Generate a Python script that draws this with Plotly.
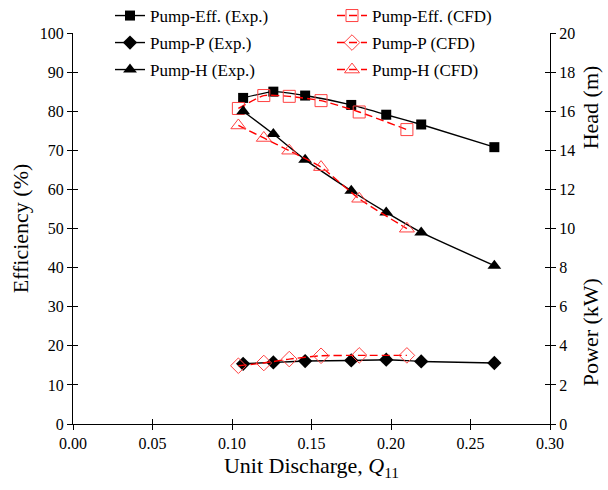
import plotly.graph_objects as go

# Data
q_exp = [0.107, 0.126, 0.146, 0.175, 0.197, 0.219, 0.265]
eff_exp = [83.4, 85.0, 84.0, 81.6, 79.1, 76.6, 70.8]
power_exp = [3.08, 3.15, 3.22, 3.25, 3.29, 3.20, 3.12]
head_exp = [16.0, 14.83, 13.52, 11.93, 10.82, 9.80, 8.10]

q_cfd = [0.104, 0.120, 0.136, 0.156, 0.180, 0.210]
eff_cfd = [80.7, 84.0, 83.8, 82.7, 79.8, 75.3]
power_cfd = [2.98, 3.12, 3.32, 3.49, 3.51, 3.51]
head_cfd = [15.27, 14.63, 13.98, 13.14, 11.52, 9.99]

x_ticks = [0.00, 0.05, 0.10, 0.15, 0.20, 0.25, 0.30]
x_ticklabels = ["0.00", "0.05", "0.10", "0.15", "0.20", "0.25", "0.30"]

FONT = "Liberation Serif, Times New Roman, serif"
BLACK = "#000000"
RED = "#FF0000"
RED_MK = "#FF4040"

fig = go.Figure()

def exp_trace(x, y, name, symbol, size, yaxis, legend):
    return go.Scatter(
        x=x, y=y, name=name, mode="lines+markers", yaxis=yaxis, legend=legend,
        line=dict(color=BLACK, width=1.4, shape="spline", smoothing=0.5),
        marker=dict(symbol=symbol, size=size, color=BLACK, line=dict(width=0)),
    )

def cfd_trace(x, y, name, symbol, size, yaxis, legend):
    return go.Scatter(
        x=x, y=y, name=name, mode="lines+markers", yaxis=yaxis, legend=legend,
        line=dict(color=RED, width=1.4, dash="8px,4px", shape="spline", smoothing=0.5),
        marker=dict(symbol=symbol, size=size, color=RED_MK, line=dict(color=RED_MK, width=1)),
    )

fig.add_trace(exp_trace(q_exp, eff_exp, "Pump-Eff. (Exp.)", "square", 10, "y", "legend"))
fig.add_trace(cfd_trace(q_cfd, eff_cfd, "Pump-Eff. (CFD)", "square-open", 12, "y", "legend2"))
fig.add_trace(exp_trace(q_exp, power_exp, "Pump-P (Exp.)", "diamond", 11, "y2", "legend3"))
fig.add_trace(cfd_trace(q_cfd, power_cfd, "Pump-P (CFD)", "diamond-open", 12, "y2", "legend4"))
fig.add_trace(exp_trace(q_exp, head_exp, "Pump-H (Exp.)", "triangle-up", 12, "y2", "legend5"))
fig.add_trace(cfd_trace(q_cfd, head_cfd, "Pump-H (CFD)", "triangle-up-open", 13, "y2", "legend6"))

# empty helper traces so the overlay axes (inner tick halves) get drawn
fig.add_trace(go.Scatter(x=[None], y=[None], xaxis="x2", yaxis="y3",
                         showlegend=False, hoverinfo="skip"))
fig.add_trace(go.Scatter(x=[None], y=[None], xaxis="x2", yaxis="y4",
                         showlegend=False, hoverinfo="skip"))

axis_common = dict(showgrid=False, zeroline=False, showline=True,
                   linecolor=BLACK, linewidth=1.3, ticks="outside",
                   ticklen=5, tickwidth=1.3, tickcolor=BLACK,
                   tickfont=dict(family=FONT, size=16, color=BLACK))
inner_ticks = dict(showticklabels=False, showgrid=False, zeroline=False, showline=False,
                   ticks="inside", ticklen=5, tickwidth=1.3, tickcolor=BLACK)

legend_font = dict(family=FONT, size=17, color=BLACK)
col_x = [110 / 608, 332 / 608]
row_y = [1 - 16 / 490, 1 - 43 / 490, 1 - 70 / 490]
legends = {}
for i in range(6):
    key = "legend" if i == 0 else f"legend{i + 1}"
    legends[key] = dict(orientation="h", x=col_x[i % 2], y=row_y[i // 2],
                        xref="container", yref="container",
                        xanchor="left", yanchor="middle", itemwidth=30,
                        font=legend_font, bgcolor="rgba(0,0,0,0)")

fig.update_layout(
    width=608, height=490,
    margin=dict(l=73, r=58, t=33, b=66, autoexpand=False),
    paper_bgcolor="white", plot_bgcolor="white",
    font=dict(family=FONT, color=BLACK),
    showlegend=True,
    xaxis=dict(range=[0, 0.30], tickvals=x_ticks, ticktext=x_ticklabels,
               title=dict(text="Unit Discharge, <i>Q</i><sub>11</sub>",
                          font=dict(family=FONT, size=22, color=BLACK), standoff=6),
               **axis_common),
    xaxis2=dict(range=[0, 0.30], tickvals=x_ticks, overlaying="x", anchor="y",
                side="bottom", **inner_ticks),
    yaxis=dict(range=[0, 100], dtick=10,
               title=dict(text="Efficiency (%)", font=dict(family=FONT, size=22, color=BLACK),
                          standoff=4),
               **axis_common),
    yaxis2=dict(range=[0, 20], dtick=2, overlaying="y", side="right", anchor="x",
                **axis_common),
    yaxis3=dict(range=[0, 100], dtick=10, overlaying="y", side="left", anchor="x",
                **inner_ticks),
    yaxis4=dict(range=[0, 20], dtick=2, overlaying="y", side="right", anchor="x",
                **inner_ticks),
    annotations=[
        dict(text="Head (m)", xref="paper", yref="paper", x=1.084, y=0.81,
             textangle=-90, showarrow=False, xanchor="center", yanchor="middle",
             font=dict(family=FONT, size=22, color=BLACK)),
        dict(text="Power (kW)", xref="paper", yref="paper", x=1.084, y=0.235,
             textangle=-90, showarrow=False, xanchor="center", yanchor="middle",
             font=dict(family=FONT, size=22, color=BLACK)),
    ],
    **legends,
)

fig.write_html("out.html")
